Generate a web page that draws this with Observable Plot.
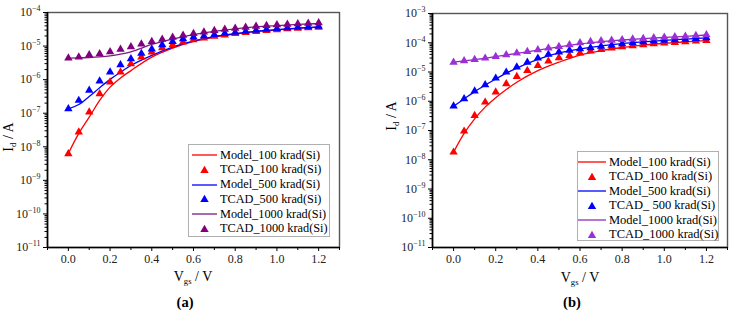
<!DOCTYPE html>
<html>
<head>
<meta charset="utf-8">
<script src="https://cdn.jsdelivr.net/npm/d3@7"></script>
<script src="https://cdn.jsdelivr.net/npm/@observablehq/plot@0.6"></script>
<style>
  html, body { margin: 0; padding: 0; background: #fff; }
  #root { position: relative; width: 733px; height: 313px; overflow: hidden; font-family: "Liberation Serif", Tinos, "DejaVu Serif", serif; color: #000; }
  .panel { position: absolute; top: 0; }
  .lab { position: absolute; white-space: nowrap; transform: translate(-50%, -50%); font-size: 14px; line-height: 1; }
  .lab.rot { transform: translate(-50%, -50%) rotate(-90deg); }
  .lab sub { font-size: 0.62em; vertical-align: -0.3em; line-height: 0; }
  .tag { position: absolute; transform: translate(-50%, -50%); font-size: 14.5px; font-weight: bold; line-height: 1; }
  .legend { position: absolute; background: #fff; border: 1px solid #b0b0b0; box-sizing: border-box; }
  .legend .row { display: flex; align-items: center; white-space: nowrap; }
  .legend svg { flex: none; }
</style>
</head>
<body>
<div id="root"></div>
<script>
const FONT = "'Liberation Serif', Tinos, 'DejaVu Serif', serif";

// Gate voltage sweep of the TCAD points
const vgs = [0, 0.05, 0.1, 0.15, 0.2, 0.25, 0.3, 0.35, 0.4, 0.45, 0.5, 0.55, 0.6,
             0.65, 0.7, 0.75, 0.8, 0.85, 0.9, 0.95, 1.0, 1.05, 1.1, 1.15, 1.2];
// Gate voltage samples of the compact model curves
const vgsModel = [0, 0.05, 0.1, 0.15, 0.2, 0.25, 0.3, 0.4, 0.5, 0.6, 0.7, 0.8, 0.9, 1.0, 1.1, 1.2];

// (a) drain current, A
const tcadA100 = [6.2e-9, 2.74e-8, 1.08e-7, 3.8e-7, 8.4e-7, 1.67e-6, 2.97e-6, 4.68e-6, 6.61e-6, 8.91e-6, 1.09e-5, 1.31e-5, 1.54e-5,
                  1.74e-5, 1.95e-5, 2.14e-5, 2.34e-5, 2.51e-5, 2.69e-5, 2.88e-5, 3.05e-5, 3.24e-5, 3.39e-5, 3.51e-5, 3.63e-5];
const tcadA500 = [1.36e-7, 2.4e-7, 4.78e-7, 9.0e-7, 1.67e-6, 2.77e-6, 4.19e-6, 6.03e-6, 8.09e-6, 1.09e-5, 1.37e-5, 1.65e-5, 1.84e-5,
                  2.0e-5, 2.19e-5, 2.4e-5, 2.57e-5, 2.75e-5, 2.95e-5, 3.16e-5, 3.31e-5, 3.47e-5, 3.63e-5, 3.72e-5, 3.85e-5];
const tcadA1000 = [4.37e-6, 4.68e-6, 5.5e-6, 5.89e-6, 6.76e-6, 7.94e-6, 9.55e-6, 1.15e-5, 1.35e-5, 1.58e-5, 1.82e-5, 2.09e-5, 2.34e-5,
                   2.63e-5, 2.88e-5, 3.13e-5, 3.39e-5, 3.63e-5, 3.89e-5, 4.07e-5, 4.27e-5, 4.42e-5, 4.57e-5, 4.73e-5, 4.9e-5];
const modelA100 = [6.3e-9, 2.5e-8, 7.6e-8, 2.4e-7, 6.0e-7, 1.12e-6, 1.86e-6, 4.68e-6, 8.7e-6, 1.38e-5, 1.86e-5, 2.29e-5, 2.69e-5, 3.02e-5, 3.35e-5, 3.63e-5];
const modelA500 = [1.35e-7, 1.82e-7, 3.16e-7, 5.75e-7, 1.02e-6, 1.66e-6, 2.63e-6, 5.25e-6, 9.33e-6, 1.41e-5, 1.91e-5, 2.34e-5, 2.75e-5, 3.09e-5, 3.43e-5, 3.72e-5];
const modelA1000 = [4.37e-6, 4.42e-6, 4.57e-6, 4.79e-6, 5.13e-6, 5.75e-6, 6.76e-6, 1.12e-5, 1.62e-5, 2.19e-5, 2.75e-5, 3.24e-5, 3.72e-5, 4.07e-5, 4.42e-5, 4.68e-5];

// (b) drain current, A
const tcadB100 = [1.81e-8, 9.46e-8, 3.26e-7, 9.27e-7, 2.04e-6, 3.95e-6, 7.01e-6, 1.12e-5, 1.67e-5, 2.34e-5, 3.05e-5, 3.66e-5, 4.4e-5,
                  5.14e-5, 5.87e-5, 6.52e-5, 7.26e-5, 7.87e-5, 8.51e-5, 9.2e-5, 9.66e-5, 1.02e-4, 1.08e-4, 1.13e-4, 1.19e-4];
const tcadB500 = [6.78e-7, 1.21e-6, 2.21e-6, 3.65e-6, 6.14e-6, 9.84e-6, 1.46e-5, 2.16e-5, 2.96e-5, 3.98e-5, 4.79e-5, 5.5e-5, 6.17e-5,
                  6.76e-5, 7.5e-5, 8.22e-5, 9.12e-5, 9.89e-5, 1.07e-4, 1.14e-4, 1.2e-4, 1.26e-4, 1.32e-4, 1.4e-4, 1.48e-4];
const tcadB1000 = [2.16e-5, 2.42e-5, 2.67e-5, 2.96e-5, 3.39e-5, 3.87e-5, 4.4e-5, 5.02e-5, 5.74e-5, 6.52e-5, 7.45e-5, 8.51e-5, 1.0e-4,
                   1.1e-4, 1.16e-4, 1.22e-4, 1.27e-4, 1.33e-4, 1.4e-4, 1.46e-4, 1.53e-4, 1.6e-4, 1.67e-4, 1.77e-4, 1.87e-4];
const modelB100 = [1.82e-8, 7.94e-8, 2.51e-7, 6.31e-7, 1.32e-6, 2.51e-6, 4.47e-6, 1.12e-5, 2.16e-5, 3.8e-5, 5.37e-5, 6.84e-5, 8.32e-5, 9.55e-5, 1.07e-4, 1.19e-4];
const modelB500 = [6.76e-7, 1.2e-6, 2.14e-6, 3.55e-6, 5.75e-6, 9.12e-6, 1.35e-5, 2.69e-5, 4.47e-5, 6.17e-5, 7.76e-5, 9.33e-5, 1.07e-4, 1.2e-4, 1.33e-4, 1.46e-4];
const modelB1000 = [2.16e-5, 2.4e-5, 2.66e-5, 2.95e-5, 3.35e-5, 3.8e-5, 4.32e-5, 5.62e-5, 7.24e-5, 9.12e-5, 1.1e-4, 1.24e-4, 1.38e-4, 1.51e-4, 1.66e-4, 1.84e-4];

// Axis ticks
const xMajor = [0, 0.2, 0.4, 0.6, 0.8, 1.0, 1.2];
const xMinor = [-0.1, 0.1, 0.3, 0.5, 0.7, 0.9, 1.1, 1.3];
const decadesA = [-11, -10, -9, -8, -7, -6, -5, -4];
const decadesB = [-11, -10, -9, -8, -7, -6, -5, -4, -3];

// Legend entries
const legendA = ["Model_100 krad(Si)", "TCAD_100 krad(Si)", "Model_500 krad(Si)", "TCAD_500 krad(Si)", "Model_1000 krad(Si)", "TCAD_1000 krad(Si)"];
const legendB = ["Model_100 krad(Si)", "TCAD_100 krad(Si)", "Model_500 krad(Si)", "TCAD_ 500 krad(Si)", "Model_1000 krad(Si)", "TCAD_1000 krad(Si)"];

const RED = "#ff0000", BLUE = "#0000ff";

const toRows = (xs, ys) => xs.map((v, i) => ({v, id: ys[i]}));

function minorLog(decs) {
  const out = [];
  for (let i = 0; i < decs.length - 1; i++)
    for (let k = 2; k <= 9; k++) out.push(k * Math.pow(10, decs[i]));
  return out;
}

function panel(cfg) {
  const majorY = cfg.decades.map(e => Math.pow(10, e));
  const series = cfg.series;
  const marks = [
    Plot.frame({stroke: "#555", strokeWidth: 1.4}),
    Plot.axisX(xMinor, {tickSize: 3, tickFormat: () => "", label: null}),
    Plot.axisX(xMajor, {tickSize: 4, tickPadding: 3, tickFormat: d3.format(".1f"), label: null, fill: "#222"}),
    Plot.axisY(minorLog(cfg.decades), {tickSize: 2.5, tickFormat: () => "", label: null}),
    Plot.axisY(majorY, {tickSize: 4, tickPadding: 3, label: null, fill: "#222",
      tickFormat: d => "10|" + Math.round(Math.log10(d))}),
    Plot.ruleX([-0.1], {stroke: "#000", strokeWidth: 1.6}),
    Plot.ruleY([majorY[0]], {stroke: "#000", strokeWidth: 1.6})
  ];
  for (const s of series) {
    marks.push(Plot.line(toRows(vgsModel, s.model), {x: "v", y: "id", stroke: s.line, strokeWidth: 1.3, curve: "monotone-x"}));
  }
  for (const s of series) {
    marks.push(Plot.dot(toRows(vgs, s.tcad), {x: "v", y: "id", symbol: "triangle", r: 3.1, fill: s.color, stroke: "none"}));
  }
  const svg = Plot.plot({
    width: cfg.width, height: 268,
    marginLeft: cfg.ml, marginRight: cfg.mr, marginTop: cfg.mt, marginBottom: 21,
    x: {domain: [-0.1, 1.3], label: null},
    y: {type: "log", domain: [majorY[0], majorY[majorY.length - 1]], label: null},
    style: {fontFamily: FONT, fontSize: "12px", background: "transparent", overflow: "visible"},
    marks
  });
  // power-of-ten labels: base with a raised exponent
  svg.querySelectorAll("text").forEach(t => {
    const s = t.textContent;
    if (s.includes("|")) {
      const [base, exp] = s.split("|");
      t.textContent = base;
      const ts = document.createElementNS("http://www.w3.org/2000/svg", "tspan");
      ts.setAttribute("dy", "-5");
      ts.setAttribute("font-size", "8px");
      ts.textContent = exp.replace("-", "\u2212");
      t.appendChild(ts);
    }
  });
  const wrap = document.createElement("div");
  wrap.className = "panel";
  wrap.style.left = cfg.left + "px";
  wrap.appendChild(svg);
  return wrap;
}

function label(html, x, y, cls) {
  const d = document.createElement("div");
  d.className = cls;
  d.style.left = x + "px";
  d.style.top = y + "px";
  d.innerHTML = html;
  return d;
}

function legend(cfg) {
  const box = document.createElement("div");
  box.className = "legend";
  Object.assign(box.style, {left: cfg.x + "px", top: cfg.y + "px", width: cfg.w + "px", height: cfg.h + "px",
    paddingTop: cfg.pad + "px", fontSize: cfg.fs + "px"});
  cfg.labels.forEach((text, i) => {
    const s = cfg.series[Math.floor(i / 2)];
    const row = document.createElement("div");
    row.className = "row";
    row.style.height = cfg.rowH + "px";
    const sw = d3.create("svg").attr("width", cfg.sw).attr("height", 10).style("margin-left", cfg.swL + "px").style("margin-right", "3px");
    if (i % 2 === 0) {
      sw.append("line").attr("x1", 0).attr("x2", cfg.sw).attr("y1", 5).attr("y2", 5).attr("stroke", s.line).attr("stroke-width", 1.3);
    } else {
      sw.append("path").attr("d", d3.symbol(d3.symbolTriangle, Math.PI * 3.1 * 3.1)()).attr("transform", `translate(${cfg.sw / 2},5.5)`).attr("fill", s.color);
    }
    row.appendChild(sw.node());
    const sp = document.createElement("span");
    sp.textContent = text;
    row.appendChild(sp);
    box.appendChild(row);
  });
  return box;
}

const seriesA = [
  {tcad: tcadA100, model: modelA100, color: RED, line: RED},
  {tcad: tcadA500, model: modelA500, color: BLUE, line: BLUE},
  {tcad: tcadA1000, model: modelA1000, color: "#800080", line: "#7d1a7d"}
];
const seriesB = [
  {tcad: tcadB100, model: modelB100, color: RED, line: RED},
  {tcad: tcadB500, model: modelB500, color: BLUE, line: BLUE},
  {tcad: tcadB1000, model: modelB1000, color: "#9b30d6", line: "#8e2cbf"}
];

const root = document.getElementById("root");
root.appendChild(panel({left: 0, width: 366, ml: 47, mr: 27, mt: 12, decades: decadesA, series: seriesA}));
root.appendChild(panel({left: 366, width: 367, ml: 66, mr: 6, mt: 13, decades: decadesB, series: seriesB}));

root.appendChild(legend({x: 188, y: 144, w: 142, h: 93, pad: 2.6, rowH: 14.8, fs: 12.3, sw: 25, swL: 3, labels: legendA, series: seriesA}));
root.appendChild(legend({x: 577, y: 151, w: 142, h: 90, pad: 2.8, rowH: 14.5, fs: 12.5, sw: 28, swL: 0, labels: legendB, series: seriesB}));

root.appendChild(label("I<sub>d</sub> / A", 9, 137, "lab rot"));
root.appendChild(label("I<sub>d</sub> / A", 392, 116, "lab rot"));
root.appendChild(label("V<sub>gs</sub> / V", 193, 277, "lab"));
root.appendChild(label("V<sub>gs</sub> / V", 580, 278, "lab"));
root.appendChild(label("(<span>a</span>)", 185, 302, "tag"));
root.appendChild(label("(<span>b</span>)", 572, 302, "tag"));
</script>
</body>
</html>
